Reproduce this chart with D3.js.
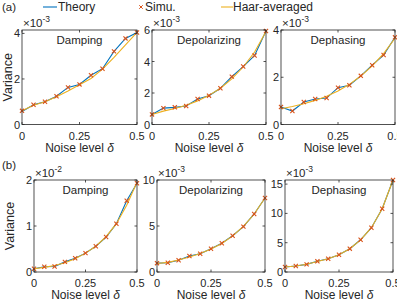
<!DOCTYPE html>
<html>
<head>
<meta charset="utf-8">
<script src="https://cdn.jsdelivr.net/npm/d3@7"></script>
<style>
  body { margin: 0; background: #fff; }
  text { font-family: "Liberation Sans", Arial, sans-serif; fill: #262626; }
</style>
</head>
<body>
<svg id="chart" width="397" height="304"></svg>
<script>
// noise levels shared by every panel
const deltas = [0, 0.05, 0.1, 0.15, 0.2, 0.25, 0.3, 0.35, 0.4, 0.45, 0.5];
const xTicks = [0, 0.25, 0.5];

// (a) values, x10^-3
const dampA_theory = [0.57, 0.87, 1.0, 1.24, 1.63, 1.76, 2.16, 2.45, 3.21, 3.78, 4.04];
const dampA_simu   = [0.60, 0.87, 1.0, 1.24, 1.63, 1.76, 2.16, 2.45, 3.21, 3.78, 4.04];
const dampA_haar   = [0.60, 0.85, 1.0, 1.22, 1.47, 1.75, 2.02, 2.43, 2.95, 3.5, 4.05];

const depA_theory = [0.64, 1.04, 1.09, 1.17, 1.62, 1.83, 2.30, 3.04, 3.68, 4.38, 5.94];
const depA_simu   = [0.64, 1.04, 1.09, 1.17, 1.62, 1.83, 2.30, 3.04, 3.68, 4.38, 5.94];
const depA_haar   = [0.64, 0.85, 1.02, 1.22, 1.50, 1.85, 2.30, 2.90, 3.65, 4.60, 5.90];

const dephA_theory = [0.74, 0.57, 0.95, 1.08, 1.12, 1.56, 1.66, 2.06, 2.51, 2.94, 3.69];
const dephA_simu   = [0.74, 0.57, 0.95, 1.08, 1.12, 1.56, 1.66, 2.06, 2.51, 2.94, 3.69];
const dephA_haar   = [0.67, 0.76, 0.88, 1.02, 1.20, 1.42, 1.70, 2.05, 2.48, 3.00, 3.65];

// (b) values
const dampB_theory = [0.07, 0.115, 0.12, 0.22, 0.30, 0.41, 0.56, 0.76, 1.05, 1.55, 1.93]; // x10^-2
const dampB_simu   = [0.07, 0.115, 0.12, 0.22, 0.30, 0.41, 0.56, 0.76, 1.05, 1.55, 1.93];
const dampB_haar   = [0.07, 0.10, 0.14, 0.20, 0.29, 0.41, 0.56, 0.77, 1.05, 1.45, 1.95];

const depB_theory = [0.96, 1.0, 1.28, 1.74, 1.99, 2.52, 3.12, 3.94, 4.93, 6.31, 8.05]; // x10^-3
const depB_simu   = [0.96, 1.0, 1.28, 1.74, 1.99, 2.52, 3.12, 3.94, 4.93, 6.31, 8.05];
const depB_haar   = [0.92, 1.05, 1.30, 1.64, 2.00, 2.50, 3.10, 3.92, 4.95, 6.30, 8.05];

const dephB_theory = [0.85, 1.02, 1.30, 1.82, 2.27, 2.95, 3.98, 5.50, 7.56, 10.8, 15.7]; // x10^-3
const dephB_simu   = [0.85, 1.02, 1.30, 1.82, 2.27, 2.95, 3.98, 5.50, 7.56, 10.8, 15.7];
const dephB_haar   = [0.85, 1.02, 1.32, 1.80, 2.27, 2.95, 3.98, 5.48, 7.56, 10.8, 15.7];

const BLUE = "#0072BD", RED = "#D95319", YELLOW = "#EDB120", AX = "#262626";

const svg = d3.select("#chart");

const panels = [
  { title: "Damping", exp: "-3", ymax: 4.15, yticks: [0, 2, 4], box: [22, 137, 30, 124.5], ylabel: 8,
    theory: dampA_theory, simu: dampA_simu, haar: dampA_haar },
  { title: "Depolarizing", exp: "-3", ymax: 6, yticks: [0, 2, 4, 6], box: [152, 266, 30, 124.5],
    theory: depA_theory, simu: depA_simu, haar: depA_haar },
  { title: "Dephasing", exp: "-3", ymax: 4, yticks: [0, 2, 4], box: [281, 395, 30, 124.5],
    theory: dephA_theory, simu: dephA_simu, haar: dephA_haar },
  { title: "Damping", exp: "-2", ymax: 2, yticks: [0, 1, 2], box: [34, 137, 180, 272], ylabel: 10,
    theory: dampB_theory, simu: dampB_simu, haar: dampB_haar },
  { title: "Depolarizing", exp: "-3", ymax: 10, yticks: [0, 5, 10], box: [157, 265, 180, 272],
    theory: depB_theory, simu: depB_simu, haar: depB_haar },
  { title: "Dephasing", exp: "-3", ymax: 15.7, yticks: [0, 5, 10, 15], box: [285, 393, 180, 272],
    theory: dephB_theory, simu: dephB_simu, haar: dephB_haar }
];

panels.forEach(drawPanel);

function drawPanel (p) {
  const [x0, x1, y0, y1] = p.box;
  const x = d3.scaleLinear().domain([0, 0.5]).range([x0, x1]);
  const y = d3.scaleLinear().domain([0, p.ymax]).range([y1, y0]);
  const g = svg.append("g");

  const line = arr => d3.line().x((d, i) => x(deltas[i])).y(d => y(d))(arr);

  g.append("path").attr("d", line(p.theory))
    .attr("fill", "none").attr("stroke", BLUE).attr("stroke-width", 1.1);
  g.append("path").attr("d", line(p.haar))
    .attr("fill", "none").attr("stroke", YELLOW).attr("stroke-width", 1.1);

  g.selectAll(".m").data(p.simu).join("path")
    .attr("transform", (d, i) => `translate(${x(deltas[i])},${y(d)})`)
    .attr("d", d3.symbol(d3.symbolTimes, 13))
    .attr("fill", "none").attr("stroke", RED).attr("stroke-width", 1.1);

  // box
  g.append("rect").attr("x", x0).attr("y", y0).attr("width", x1 - x0).attr("height", y1 - y0)
    .attr("fill", "none").attr("stroke", AX).attr("stroke-width", 0.8);

  // inner ticks, mirrored
  xTicks.forEach(t => {
    g.append("line").attr("x1", x(t)).attr("x2", x(t)).attr("y1", y1).attr("y2", y1 - 2.5).attr("stroke", AX).attr("stroke-width", 0.8);
    g.append("line").attr("x1", x(t)).attr("x2", x(t)).attr("y1", y0).attr("y2", y0 + 2.5).attr("stroke", AX).attr("stroke-width", 0.8);
  });
  p.yticks.forEach(t => {
    g.append("line").attr("x1", x0).attr("x2", x0 + 2.5).attr("y1", y(t)).attr("y2", y(t)).attr("stroke", AX).attr("stroke-width", 0.8);
    g.append("line").attr("x1", x1).attr("x2", x1 - 2.5).attr("y1", y(t)).attr("y2", y(t)).attr("stroke", AX).attr("stroke-width", 0.8);
  });

  g.selectAll(".xt").data(xTicks).join("text")
    .attr("x", d => x(d)).attr("y", y1 + 15)
    .attr("text-anchor", "middle").attr("font-size", 11)
    .text(d => d === 0 ? "0" : d);

  g.selectAll(".yt").data(p.yticks).join("text")
    .attr("x", x0 - 2).attr("y", d => y(d) + 4)
    .attr("text-anchor", "end").attr("font-size", 11)
    .text(d => d);

  // exponent
  const e = g.append("text").attr("x", x0 + 1).attr("y", y0 - 3).attr("font-size", 11.5);
  e.append("tspan").text("\u00d710");
  e.append("tspan").attr("dy", -5).attr("font-size", 8.5).text(p.exp);

  g.append("text").attr("x", (x0 + x1) / 2).attr("y", y0 + 14)
    .attr("text-anchor", "middle").attr("font-size", 11.5).text(p.title);

  const xl = g.append("text").attr("x", (x0 + x1) / 2).attr("y", y1 + 27)
    .attr("text-anchor", "middle").attr("font-size", 12);
  xl.append("tspan").text("Noise level ");
  xl.append("tspan").attr("font-style", "italic").text("\u03b4");

  if (p.ylabel) {
    g.append("text").attr("transform", `translate(${p.ylabel + 4},${(y0 + y1) / 2}) rotate(-90)`)
      .attr("text-anchor", "middle").attr("font-size", 12.5).text("Variance");
  }
}

// panel letters
svg.append("text").attr("x", 2).attr("y", 11).attr("font-size", 11.5).text("(a)");
svg.append("text").attr("x", 2).attr("y", 169).attr("font-size", 11.5).text("(b)");

// legend
const leg = svg.append("g");
leg.append("line").attr("x1", 43).attr("x2", 57).attr("y1", 7).attr("y2", 7).attr("stroke", BLUE).attr("stroke-width", 1.1);
leg.append("text").attr("x", 58).attr("y", 11).attr("font-size", 12).text("Theory");
leg.append("path").attr("transform", "translate(141,7)")
  .attr("d", d3.symbol(d3.symbolTimes, 10)).attr("fill", "none").attr("stroke", RED).attr("stroke-width", 1);
leg.append("text").attr("x", 145).attr("y", 11).attr("font-size", 12).text("Simu.");
leg.append("line").attr("x1", 221).attr("x2", 233).attr("y1", 7).attr("y2", 7).attr("stroke", YELLOW).attr("stroke-width", 1.1);
leg.append("text").attr("x", 233).attr("y", 11).attr("font-size", 12).text("Haar-averaged");
</script>
</body>
</html>
